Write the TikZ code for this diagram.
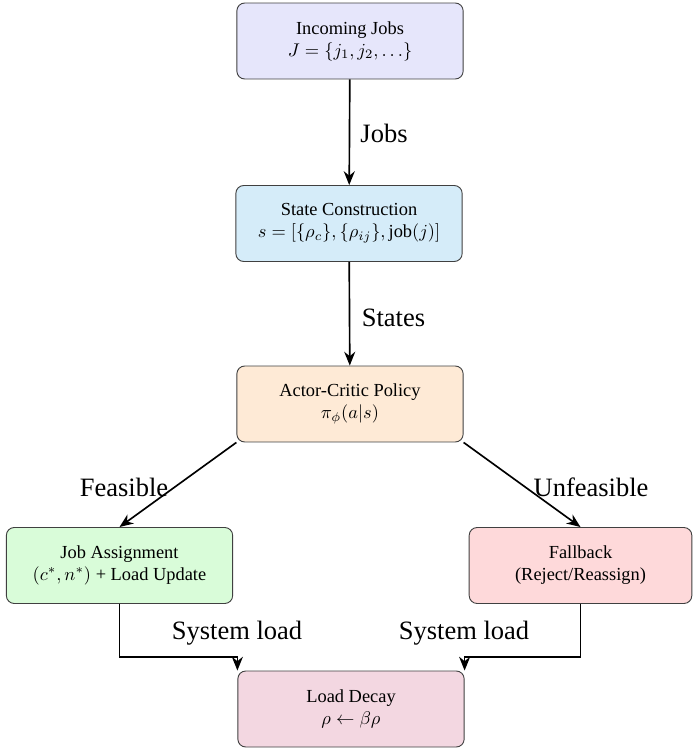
\documentclass[tikz,border=0pt]{standalone}
\usepackage{fontspec}
\setmainfont{Liberation Serif}
\usetikzlibrary{arrows.meta}
\definecolor{cJobs}{RGB}{230,230,251}
\definecolor{cState}{RGB}{213,236,249}
\definecolor{cPolicy}{RGB}{254,234,214}
\definecolor{cAssign}{RGB}{217,252,217}
\definecolor{cFall}{RGB}{254,217,218}
\definecolor{cDecay}{RGB}{243,215,225}
\tikzset{
  box/.style={draw=black!75, line width=0.5pt, rounded corners=4.3pt, align=center,
    minimum width=123pt, minimum height=41.3pt, inner sep=2pt, font=\normalsize},
  arr/.style={-{Stealth[length=7.5pt,width=6pt]}, line width=0.9pt},
  lbl/.style={font=\fontsize{14.4}{17}\selectfont, inner sep=0pt}
}
\begin{document}
\begin{tikzpicture}[x=0.5435pt,y=-0.5435pt]
\useasboundingbox (0,0) rectangle (692,749);
\node[box, fill=cJobs] (jobs) at (350,41) {Incoming Jobs\\$J=\{j_1,j_2,\dots\}$};
\node[box, fill=cState] (state) at (349,223.5) {State Construction\\$s=[\{\rho_c\},\{\rho_{ij}\},\textrm{job}(j)]$};
\node[box, fill=cPolicy] (policy) at (350,404) {Actor-Critic Policy\\$\pi_\phi(a|s)$};
\node[box, fill=cAssign] (assign) at (119.5,565.5) {Job Assignment\\$(c^*,n^*)$ + Load Update};
\node[box, fill=cFall, minimum width=121pt] (fall) at (580.5,565.5) {Fallback\\(Reject/Reassign)};
\node[box, fill=cDecay] (decay) at (351,709) {Load Decay\\$\rho\leftarrow\beta\rho$};

\draw[arr] (jobs) -- (state);
\draw[arr] (state) -- (policy);
\draw[arr] (policy.south west) -- (assign.north);
\draw[arr] (policy.south east) -- (fall.north);
\coordinate (lowy) at (0,657);
\draw[arr] (assign.south) -- (assign.south |- lowy) -| (decay.north west);
\draw[arr] (fall.south) -- (fall.south |- lowy) -| (decay.north east);

\node[lbl] (ljobs) at (384,133) {Jobs};
\node[lbl] (lstates) at (393.5,318) {States};
\node[lbl] (lfeas) at (124,487) {Feasible};
\node[lbl] (lunfeas) at (591,487) {Unfeasible};
\node[lbl] (lsys1) at (237,633) {System load};
\node[lbl] (lsys2) at (464,633) {System load};
\end{tikzpicture}
\end{document}
